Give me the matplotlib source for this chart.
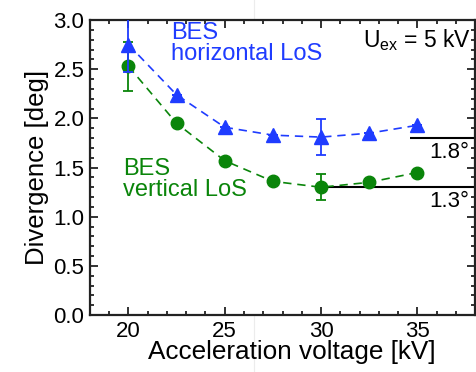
import matplotlib
matplotlib.use('Agg')
import matplotlib.pyplot as plt
from matplotlib.lines import Line2D
from matplotlib.ticker import MultipleLocator

plt.rcParams['font.family'] = ['Liberation Sans', 'DejaVu Sans']

# Data
voltage = [20, 22.5, 25, 27.5, 30, 32.5, 35]
div_horizontal = [2.75, 2.24, 1.91, 1.83, 1.81, 1.85, 1.93]
err_horizontal = [0.28, 0, 0, 0, 0.18, 0, 0]
div_vertical = [2.53, 1.95, 1.57, 1.36, 1.30, 1.35, 1.45]
err_vertical = [0.25, 0, 0, 0, 0.13, 0, 0]
min_horizontal = 1.8
min_vertical = 1.3

blue = '#1f3cff'
green = '#0a850a'

fig = plt.figure(figsize=(4.76, 3.72), dpi=100)
ax = fig.add_axes([0.189, 0.153, 0.809, 0.793])

# green series under the blue one
ax.errorbar(voltage, div_vertical, yerr=err_vertical,
            color=green, marker='o', markersize=9, linestyle=(0, (5, 3.5)), linewidth=1.2,
            elinewidth=1.3, capsize=3.5, capthick=1.3, zorder=3)
ax.errorbar(voltage, div_horizontal, yerr=err_horizontal,
            color=blue, marker='^', markersize=10.5, linestyle=(0, (5, 3.5)), linewidth=1.2,
            elinewidth=1.3, capsize=3.5, capthick=1.3, zorder=4)

# minimum lines
ax.hlines(min_horizontal, 34.6, 38, color='black', linewidth=1.5, zorder=2)
ax.hlines(min_vertical, 30, 38, color='black', linewidth=1.5, zorder=2)
ax.text(37.7, min_horizontal - 0.04, '1.8°', ha='right', va='top', fontsize=16)
ax.text(37.7, min_vertical - 0.04, '1.3°', ha='right', va='top', fontsize=16)

ax.text(22.2, 2.98, 'BES\nhorizontal LoS', color=blue, fontsize=17,
        ha='left', va='top', linespacing=0.95)
ax.text(19.7, 1.60, 'BES\nvertical LoS', color=green, fontsize=17,
        ha='left', va='top', linespacing=0.95)
ax.text(37.8, 2.93, r'U$_{\mathregular{ex}}$ = 5 kV', fontsize=16.5, ha='right', va='top')

ax.set_xlim(18, 38)
ax.set_ylim(0, 3.0)
ax.xaxis.set_major_locator(MultipleLocator(5))
ax.xaxis.set_minor_locator(MultipleLocator(1))
ax.yaxis.set_major_locator(MultipleLocator(0.5))
ax.yaxis.set_minor_locator(MultipleLocator(0.1))
ax.yaxis.set_major_formatter(plt.FormatStrFormatter('%.1f'))
ax.tick_params(which='both', direction='in', top=True, right=True, labelsize=16,
               width=1.3, color='#222222')
ax.tick_params(which='major', length=6, pad=4)
ax.tick_params(which='minor', length=3)
for s in ax.spines.values():
    s.set_linewidth(1.6)
    s.set_color('#222222')

ax.set_xlabel('Acceleration voltage [kV]', fontsize=18.8, labelpad=0)
ax.xaxis.set_label_coords(0.525, -0.085, transform=ax.transAxes)
ax.xaxis.label.set_va('top')
ax.set_ylabel('Divergence [deg]', fontsize=18.5, labelpad=3)

# faint vertical seam visible in the original image
fig.add_artist(Line2D([254 / 476, 254 / 476], [0, 1], color='#ececec', linewidth=0.8,
                      transform=fig.transFigure, zorder=0))

fig.savefig('out.png', dpi=100)
